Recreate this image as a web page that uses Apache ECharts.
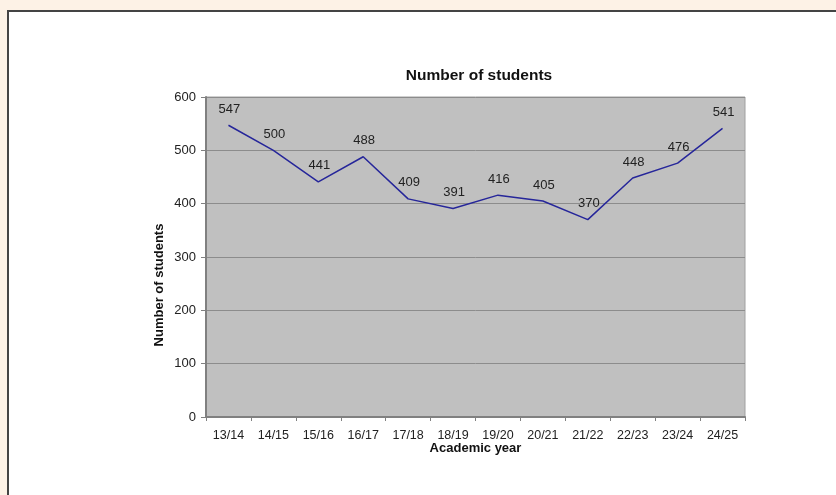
<!DOCTYPE html>
<html>
<head>
<meta charset="utf-8">
<script src="https://cdn.jsdelivr.net/npm/echarts@6/dist/echarts.min.js"></script>
<style>
  html, body { margin: 0; padding: 0; background: #fdf2e6; }
  #frame { position: absolute; left: 7px; top: 10px; width: 840px; height: 500px;
           background: #ffffff; border-left: 2px solid #444; border-top: 2px solid #444; box-sizing: border-box; }
  #chart { position: absolute; left: 0; top: 0; width: 836px; height: 495px; }
</style>
</head>
<body>
<div id="frame"></div>
<div id="chart"></div>
<script>
// Academic years and student counts
const years = ['13/14', '14/15', '15/16', '16/17', '17/18', '18/19', '19/20', '20/21', '21/22', '22/23', '23/24', '24/25'];
const students = [547, 500, 441, 488, 409, 391, 416, 405, 370, 448, 476, 541];

const FONT = '"Liberation Sans", Arial, sans-serif';

const chart = echarts.init(document.getElementById('chart'), null, { renderer: 'canvas' });
chart.setOption({
  animation: false,
  backgroundColor: 'transparent',
  title: {
    text: 'Number of students',
    left: 474, top: 63, textAlign: 'center',
    textStyle: { fontFamily: FONT, fontSize: 15.5, fontWeight: 'bold', color: '#111' }
  },
  grid: {
    left: 206, top: 97, right: 91, bottom: 78,
    show: true, backgroundColor: '#c0c0c0', borderColor: '#a0a0a0', borderWidth: 1
  },
  xAxis: {
    type: 'category',
    data: years,
    boundaryGap: true,
    name: 'Academic year',
    nameLocation: 'middle',
    nameGap: 25,
    nameMoveOverlap: false,
    nameTextStyle: { fontFamily: FONT, fontSize: 13, fontWeight: 'bold', color: '#111' },
    axisLine: { lineStyle: { color: '#808080', width: 2 } },
    axisTick: { show: true, alignWithLabel: false, length: 4, lineStyle: { color: '#808080' } },
    axisLabel: { fontFamily: FONT, fontSize: 12.5, color: '#222', margin: 12 }
  },
  yAxis: {
    type: 'value',
    min: 0, max: 600, interval: 100,
    axisLine: { show: true, lineStyle: { color: '#808080', width: 2 } },
    axisTick: { show: true, length: 5, lineStyle: { color: '#808080' } },
    axisLabel: { fontFamily: FONT, fontSize: 13, color: '#222', margin: 10 },
    splitLine: { lineStyle: { color: '#8c8c8c', width: 1 } }
  },
  graphic: [{
    type: 'text',
    x: 159, y: 285, rotation: Math.PI / 2,
    style: {
      text: 'Number of students',
      font: 'bold 13px ' + FONT,
      fill: '#111',
      textAlign: 'center', textVerticalAlign: 'middle'
    }
  }],
  series: [{
    type: 'line',
    data: students,
    symbol: 'circle',
    symbolSize: 1,
    showSymbol: true,
    itemStyle: { color: 'rgba(0,0,0,0)' },
    lineStyle: { color: '#26269a', width: 1.5 },
    label: {
      show: true, position: 'top', distance: 9, offset: [1, 0],
      fontFamily: FONT, fontSize: 13, color: '#222'
    }
  }]
});
</script>
</body>
</html>
